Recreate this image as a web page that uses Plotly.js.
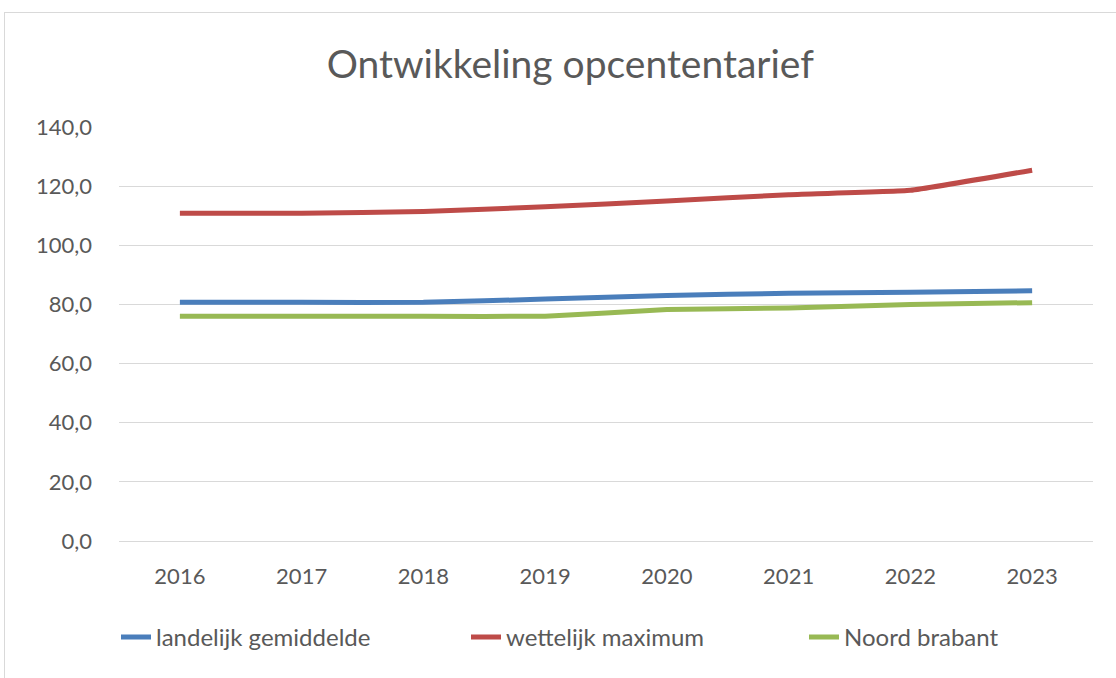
<!DOCTYPE html>
<html>
<head>
<meta charset="utf-8">
<script src="https://cdn.plot.ly/plotly-3.0.1.min.js"></script>
<style>
  html, body { margin: 0; padding: 0; background: #fff; }
  #chart { width: 1116px; height: 678px; }
  #frame { position: absolute; left: 4px; top: 12px; width: 1200px; height: 700px; border: 1px solid #d9d9d9; pointer-events: none; }
</style>
</head>
<body>
<div id="chart"></div>
<div id="frame"></div>
<script>
const years = ['2016', '2017', '2018', '2019', '2020', '2021', '2022', '2023'];
const landelijkGemiddelde = [80.7, 80.7, 80.7, 81.8, 83.0, 83.8, 84.1, 84.6];
const wettelijkMaximum = [110.8, 110.8, 111.4, 113.0, 115.0, 117.1, 118.6, 125.4];
const noordBrabant = [76.0, 76.0, 76.0, 76.0, 78.3, 78.8, 80.0, 80.6];
const seriesNames = ['landelijk gemiddelde', 'wettelijk maximum', 'Noord brabant'];
const seriesColors = ['#4A7EBB', '#BE4B48', '#98B954'];
const yTicks = [0, 20, 40, 60, 80, 100, 120, 140];
const yTickText = ['0,0', '20,0', '40,0', '60,0', '80,0', '100,0', '120,0', '140,0'];

const legendIds = ['legend', 'legend2', 'legend3'];
const legendLeft = [116, 466, 804];

const allSeries = [landelijkGemiddelde, wettelijkMaximum, noordBrabant];
const traces = allSeries.map((vals, i) => ({
  x: years,
  y: vals,
  name: seriesNames[i],
  type: 'scatter',
  mode: 'lines',
  legend: legendIds[i],
  line: { color: seriesColors[i], width: 5, shape: 'spline', smoothing: 0.3 },
  hoverinfo: 'skip'
}));

const layout = {
  width: 1116,
  height: 678,
  paper_bgcolor: '#ffffff',
  plot_bgcolor: '#ffffff',
  margin: { l: 119, r: 23, t: 127, b: 137 },
  font: { family: 'Lato, "Open Sans", sans-serif', color: '#595959' },
  title: {
    text: 'Ontwikkeling opcententarief',
    font: { size: 39, color: '#595959', family: 'Lato, "Open Sans", sans-serif' },
    x: 0.511, xref: 'container', xanchor: 'center',
    y: 0.905, yref: 'container', yanchor: 'middle'
  },
  xaxis: {
    type: 'category',
    range: [-0.5, 7.5],
    showgrid: false,
    zeroline: false,
    showline: false,
    ticks: '',
    tickfont: { size: 22, color: '#595959' },
    ticklabelstandoff: 20
  },
  yaxis: {
    range: [0, 140],
    tickvals: yTicks,
    ticktext: yTickText,
    showgrid: true,
    gridcolor: '#d9d9d9',
    gridwidth: 1,
    zeroline: true,
    zerolinecolor: '#d9d9d9',
    zerolinewidth: 1,
    showline: false,
    ticks: '',
    tickfont: { size: 22, color: '#595959' },
    ticklabelstandoff: 26
  },
  showlegend: true
};

legendIds.forEach((id, i) => {
  layout[id] = {
    orientation: 'h',
    x: legendLeft[i] / 1116, xref: 'container', xanchor: 'left',
    y: 0.06, yref: 'container', yanchor: 'middle',
    font: { size: 24, color: '#595959' },
    bgcolor: 'rgba(0,0,0,0)'
  };
});

Plotly.newPlot('chart', traces, layout, { displayModeBar: false, staticPlot: true });
</script>
</body>
</html>
